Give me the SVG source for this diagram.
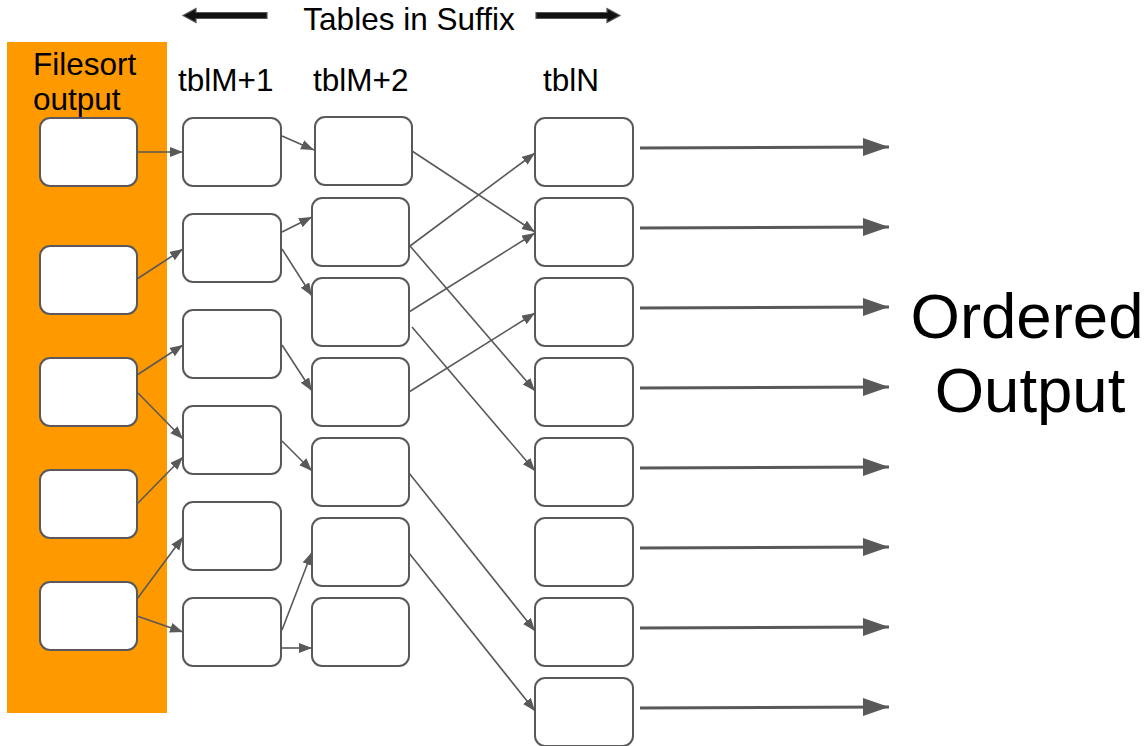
<svg xmlns="http://www.w3.org/2000/svg" width="1148" height="746" viewBox="0 0 1148 746">
  <style>
    .box { fill: #ffffff; stroke: #595959; stroke-width: 2; }
    .lbl { font-family: "Liberation Sans", Arial, sans-serif; fill: #000000; }
    .link { stroke: #595959; stroke-width: 1.6; fill: none; marker-end: url(#head); }
    .out { stroke: #595959; stroke-width: 3; fill: none; marker-end: url(#bighead); }
    .dir { fill: #111111; stroke: #555555; stroke-width: 1.2; }
  </style>
  <defs>
    <marker id="head" markerUnits="userSpaceOnUse" markerWidth="14" markerHeight="12" refX="13" refY="5" orient="auto">
      <path d="M0,0 L13,5 L0,10 Z" fill="#595959"/>
    </marker>
    <marker id="bighead" markerUnits="userSpaceOnUse" markerWidth="28" markerHeight="20" refX="26" refY="9" orient="auto">
      <path d="M0,0 L26,9 L0,18 Z" fill="#595959"/>
    </marker>
  </defs>

  <rect width="1148" height="746" fill="#ffffff"/>

  <!-- header: direction arrows and title -->
  <g id="header">
    <polygon class="dir" points="183,15.5 196,8.5 196,12.5 267,12.5 267,18.5 196,18.5 196,22.5"/>
    <polygon class="dir" points="620,15.5 607,8.5 607,12.5 536,12.5 536,18.5 607,18.5 607,22.5"/>
    <text class="lbl" x="409" y="30" font-size="31.5" text-anchor="middle">Tables in Suffix</text>
  </g>

  <!-- filesort output column -->
  <g id="filesort">
    <rect x="7" y="42" width="160" height="671" fill="#ff9900"/>
    <text class="lbl" x="33" y="75" font-size="31.5">Filesort</text>
    <text class="lbl" x="33" y="110" font-size="31.5">output</text>
    <rect id="f1" class="box" x="40" y="118" width="97" height="68" rx="10"/>
    <rect id="f2" class="box" x="40" y="246" width="97" height="68" rx="10"/>
    <rect id="f3" class="box" x="40" y="358" width="97" height="68" rx="10"/>
    <rect id="f4" class="box" x="40" y="470" width="97" height="68" rx="10"/>
    <rect id="f5" class="box" x="40" y="582" width="97" height="68" rx="10"/>
  </g>

  <!-- tblM+1 column -->
  <g id="tblM1">
    <text class="lbl" x="178" y="91" font-size="31.5">tblM+1</text>
    <rect id="a1" class="box" x="183" y="118" width="98" height="68" rx="10"/>
    <rect id="a2" class="box" x="183" y="214" width="98" height="68" rx="10"/>
    <rect id="a3" class="box" x="183" y="310" width="98" height="68" rx="10"/>
    <rect id="a4" class="box" x="183" y="406" width="98" height="68" rx="10"/>
    <rect id="a5" class="box" x="183" y="502" width="98" height="68" rx="10"/>
    <rect id="a6" class="box" x="183" y="598" width="98" height="68" rx="10"/>
  </g>

  <!-- tblM+2 column -->
  <g id="tblM2">
    <text class="lbl" x="313" y="91" font-size="31.5">tblM+2</text>
    <rect id="b1" class="box" x="315" y="117" width="97" height="68" rx="10"/>
    <rect id="b2" class="box" x="312" y="198" width="97" height="68" rx="10"/>
    <rect id="b3" class="box" x="312" y="278" width="97" height="68" rx="10"/>
    <rect id="b4" class="box" x="312" y="358" width="97" height="68" rx="10"/>
    <rect id="b5" class="box" x="312" y="438" width="97" height="68" rx="10"/>
    <rect id="b6" class="box" x="312" y="518" width="97" height="68" rx="10"/>
    <rect id="b7" class="box" x="312" y="598" width="97" height="68" rx="10"/>
  </g>

  <!-- tblN column -->
  <g id="tblN">
    <text class="lbl" x="543" y="91" font-size="31.5">tblN</text>
    <rect id="n1" class="box" x="535" y="118" width="98" height="68" rx="10"/>
    <rect id="n2" class="box" x="535" y="198" width="98" height="68" rx="10"/>
    <rect id="n3" class="box" x="535" y="278" width="98" height="68" rx="10"/>
    <rect id="n4" class="box" x="535" y="358" width="98" height="68" rx="10"/>
    <rect id="n5" class="box" x="535" y="438" width="98" height="68" rx="10"/>
    <rect id="n6" class="box" x="535" y="518" width="98" height="68" rx="10"/>
    <rect id="n7" class="box" x="535" y="598" width="98" height="68" rx="10"/>
    <rect id="n8" class="box" x="535" y="678" width="98" height="68" rx="10"/>
  </g>

  <!-- result label -->
  <g id="ordered-output">
    <text class="lbl" x="1027" y="338" font-size="63.5" text-anchor="middle">Ordered</text>
    <text class="lbl" x="1030" y="412" font-size="63.5" text-anchor="middle">Output</text>
  </g>

  <!-- connectors -->
  <g id="connectors">
    <!-- filesort -> tblM+1 -->
    <line class="link" x1="137" y1="152" x2="183" y2="152"/>
    <line class="link" x1="137" y1="279" x2="183" y2="249"/>
    <line class="link" x1="137" y1="375" x2="183" y2="345"/>
    <line class="link" x1="138" y1="393" x2="183" y2="439"/>
    <line class="link" x1="137" y1="504" x2="183" y2="457"/>
    <line class="link" x1="137" y1="599" x2="183" y2="537"/>
    <line class="link" x1="137" y1="616" x2="183" y2="632"/>
    <!-- tblM+1 -> tblM+2 -->
    <line class="link" x1="282" y1="136" x2="314" y2="150"/>
    <line class="link" x1="282" y1="232" x2="312" y2="217"/>
    <line class="link" x1="282" y1="249" x2="312" y2="296"/>
    <line class="link" x1="282" y1="345" x2="312" y2="391"/>
    <line class="link" x1="282" y1="441" x2="312" y2="471"/>
    <line class="link" x1="282" y1="630" x2="312" y2="552"/>
    <line class="link" x1="282" y1="648" x2="312" y2="648"/>
    <!-- tblM+2 -> tblN -->
    <line class="link" x1="412" y1="151" x2="535" y2="232"/>
    <line class="link" x1="410" y1="246" x2="535" y2="153"/>
    <line class="link" x1="410" y1="246" x2="535" y2="391"/>
    <line class="link" x1="409" y1="312" x2="535" y2="233"/>
    <line class="link" x1="412" y1="327" x2="535" y2="471"/>
    <line class="link" x1="409" y1="392" x2="535" y2="313"/>
    <line class="link" x1="409" y1="473" x2="535" y2="631"/>
    <line class="link" x1="409" y1="553" x2="535" y2="711"/>
    <!-- tblN -> ordered output -->
    <line class="out" x1="640" y1="148" x2="889" y2="147"/>
    <line class="out" x1="640" y1="228" x2="889" y2="227"/>
    <line class="out" x1="640" y1="308" x2="889" y2="307"/>
    <line class="out" x1="640" y1="388" x2="889" y2="387"/>
    <line class="out" x1="640" y1="468" x2="889" y2="467"/>
    <line class="out" x1="640" y1="548" x2="889" y2="547"/>
    <line class="out" x1="640" y1="628" x2="889" y2="627"/>
    <line class="out" x1="640" y1="708" x2="889" y2="707"/>
  </g>
</svg>
